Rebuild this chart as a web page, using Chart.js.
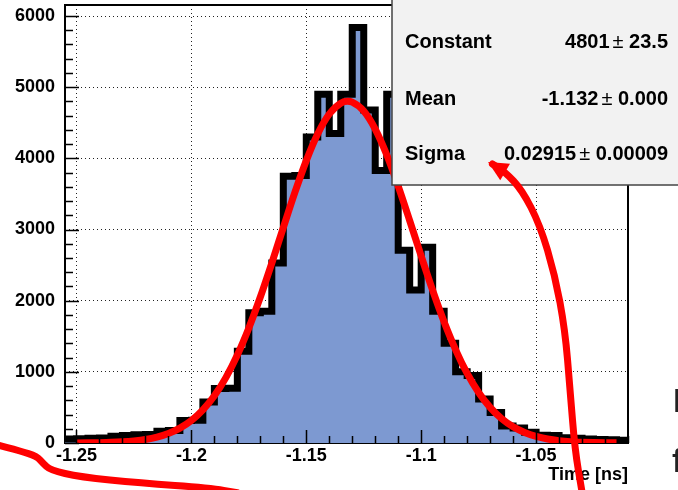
<!DOCTYPE html>
<html>
<head>
<meta charset="utf-8">
<script src="https://cdn.jsdelivr.net/npm/chart.js@4.4.0/dist/chart.umd.min.js"></script>
<style>
  html, body { margin: 0; padding: 0; background: #fff; }
  #wrap { width: 678px; height: 490px; position: relative; overflow: hidden; }
</style>
</head>
<body>
<div id="wrap"><canvas id="tiempo" width="678" height="490"></canvas></div>
<script>
// histogram: 49 bins of 0.005 ns starting at -1.255
const binStart = -1.255;
const binWidth = 0.005;
const counts = [55, 60, 65, 70, 95, 105, 115, 120, 165, 175,
  315, 320, 575, 765, 770, 1290, 1830, 1850, 2530, 3750,
  3760, 4300, 4900, 4350, 4900, 5840, 4680, 3830, 4900, 2710,
  2150, 2750, 1850, 1400, 1000, 950, 620, 430, 240, 210,
  150, 110, 105, 75, 65, 55, 50, 45, 40];

// gaussian fit curve
const fitX = [-1.25, -1.245, -1.24, -1.235, -1.23, -1.225, -1.22, -1.215, -1.21, -1.205,
  -1.2, -1.195, -1.19, -1.185, -1.18, -1.175, -1.17, -1.165, -1.16, -1.155,
  -1.15, -1.145, -1.14, -1.135, -1.132, -1.13, -1.125, -1.12, -1.115, -1.11, -1.105,
  -1.1, -1.095, -1.09, -1.085, -1.08, -1.075, -1.07, -1.065, -1.06, -1.055,
  -1.05, -1.045, -1.04, -1.035, -1.03, -1.025, -1.02, -1.015];
const fitY = [1, 3, 5, 9, 17, 30, 50, 83, 134, 209,
  316, 465, 663, 919, 1237, 1617, 2052, 2529, 3027, 3517,
  3968, 4346, 4623, 4776, 4801, 4790, 4665, 4411, 4050, 3611, 3126,
  2628, 2145, 1700, 1309, 978, 710, 500, 342, 227, 147,
  92, 56, 33, 19, 11, 6, 3, 2];

const xTicks = [-1.25, -1.2, -1.15, -1.1, -1.05];
const yTicks = [0, 1000, 2000, 3000, 4000, 5000, 6000];
const xTitle = 'Time [ns]';

const statNames = ['Constant', 'Mean', 'Sigma'];
const statValues = ['4801', '-1.132', '0.02915'];
const statErrors = ['23.5', '0.000', '0.00009'];

// text cut off at the right edge of the picture
const edgeText = ['I', 'f'];

// hand drawn red marks, in axis units
const arrowSigma = [[-1.0300, -689], [-1.0331, -98], [-1.0352, 745], [-1.0374, 1588],
  [-1.0418, 2361], [-1.0483, 3063], [-1.0561, 3555], [-1.0635, 3808], [-1.0690, 3920]];
const arrowTip = [-1.0709, 3949];
const strokeBottom = [[-1.2855, -20], [-1.2746, -110], [-1.2672, -190], [-1.2646, -281],
  [-1.2615, -379], [-1.2485, -478], [-1.2224, -562], [-1.1919, -632], [-1.1800, -700]];

const histPts = counts.map((c, i) => ({ x: binStart + i * binWidth, y: c }));
histPts.push({ x: binStart + counts.length * binWidth, y: counts[counts.length - 1] });
const fitPts = fitX.map((x, i) => ({ x: x, y: fitY[i] }));

const boldFont = '"Liberation Sans", Arial, Helvetica, sans-serif';

// frame drawn under the data
const framePlugin = {
  id: 'frame',
  beforeDatasetsDraw(chart) {
    const { ctx, chartArea: a } = chart;
    ctx.save();
    ctx.strokeStyle = '#000';
    ctx.lineWidth = 2;
    ctx.strokeRect(a.left, a.top, a.right - a.left, a.bottom - a.top);
    ctx.restore();
  }
};

// inside ticks, major and minor, on top of the data
const ticksPlugin = {
  id: 'insideTicks',
  afterDatasetsDraw(chart) {
    const { ctx, chartArea: a, scales } = chart;
    const sx = scales.x, sy = scales.y;
    ctx.save();
    ctx.strokeStyle = '#000';
    ctx.lineWidth = 1.5;
    ctx.beginPath();
    const ystep = (yTicks[1] - yTicks[0]) / 5;
    for (let v = 0; v <= sy.max + 1e-9; v += ystep) {
      const major = yTicks.some(t => Math.abs(t - v) < 1e-6);
      const py = Math.round(sy.getPixelForValue(v)) + 0.5;
      ctx.moveTo(a.left, py);
      ctx.lineTo(a.left + (major ? 14 : 8), py);
    }
    const xstep = (xTicks[1] - xTicks[0]) / 5;
    for (let k = 0; xTicks[0] + k * xstep <= sx.max + 1e-9; k++) {
      const v = xTicks[0] + k * xstep;
      const major = k % 5 === 0 && k / 5 < xTicks.length;
      const px = Math.round(sx.getPixelForValue(v)) + 0.5;
      ctx.moveTo(px, a.bottom);
      ctx.lineTo(px, a.bottom - (major ? 13 : 7));
    }
    ctx.stroke();
    ctx.restore();
  }
};

// stats box and the red marks
const statsPlugin = {
  id: 'statsBox',
  afterDraw(chart) {
    const { ctx, scales } = chart;
    const sx = scales.x, sy = scales.y;
    ctx.save();
    ctx.fillStyle = '#f2f2f2';
    ctx.fillRect(392, -5, 300, 190);
    ctx.strokeStyle = '#444';
    ctx.lineWidth = 1.5;
    ctx.strokeRect(392, -5, 300, 190);

    ctx.fillStyle = '#000';
    ctx.textBaseline = 'alphabetic';
    const rows = [48, 105, 160];
    statNames.forEach((name, i) => {
      ctx.font = 'bold 20px ' + boldFont;
      ctx.textAlign = 'left';
      ctx.fillText(name, 405, rows[i]);
      ctx.textAlign = 'right';
      const err = ' ' + statErrors[i];
      ctx.fillText(err, 668, rows[i]);
      let x = 668 - ctx.measureText(err).width;
      ctx.font = '20px ' + boldFont;
      ctx.fillText('\u00b1', x, rows[i]);
      x -= ctx.measureText('\u00b1').width + 3;
      ctx.font = 'bold 20px ' + boldFont;
      ctx.fillText(statValues[i], x, rows[i]);
    });

    // partial letters at the right edge
    ctx.font = 'bold 34px ' + boldFont;
    ctx.textAlign = 'left';
    ctx.fillStyle = '#222';
    ctx.fillText(edgeText[0], 673, 412);
    ctx.fillText(edgeText[1], 672, 472);

    // red marks
    ctx.strokeStyle = '#ff0000';
    ctx.fillStyle = '#ff0000';
    ctx.lineWidth = 7;
    ctx.lineCap = 'round';
    ctx.lineJoin = 'round';
    const path = pts => {
      ctx.beginPath();
      pts.forEach((p, i) => {
        const px = sx.getPixelForValue(p[0]), py = sy.getPixelForValue(p[1]);
        if (i === 0) ctx.moveTo(px, py);
        else {
          const q = pts[i - 1];
          const qx = sx.getPixelForValue(q[0]), qy = sy.getPixelForValue(q[1]);
          ctx.quadraticCurveTo(qx, qy, (qx + px) / 2, (qy + py) / 2);
        }
      });
      const last = pts[pts.length - 1];
      ctx.lineTo(sx.getPixelForValue(last[0]), sy.getPixelForValue(last[1]));
      ctx.stroke();
    };
    path(arrowSigma);
    path(strokeBottom);

    // arrow head
    const tx = sx.getPixelForValue(arrowTip[0]), ty = sy.getPixelForValue(arrowTip[1]);
    const b = arrowSigma[arrowSigma.length - 2];
    const bx = sx.getPixelForValue(b[0]), by = sy.getPixelForValue(b[1]);
    const ang = Math.atan2(ty - by, tx - bx);
    ctx.beginPath();
    ctx.moveTo(tx, ty);
    ctx.lineTo(tx - 22 * Math.cos(ang - 0.45), ty - 22 * Math.sin(ang - 0.45));
    ctx.lineTo(tx - 22 * Math.cos(ang + 0.45), ty - 22 * Math.sin(ang + 0.45));
    ctx.closePath();
    ctx.fill();
    ctx.restore();
  }
};

const config = {
  type: 'line',
  data: {
    datasets: [
      {
        label: 'fit',
        data: fitPts,
        borderColor: '#ff0000',
        borderWidth: 7,
        pointRadius: 0,
        cubicInterpolationMode: 'monotone',
        fill: false,
        order: 0
      },
      {
        label: 'time',
        data: histPts,
        stepped: 'before',
        borderColor: '#000000',
        borderWidth: 7,
        backgroundColor: '#7d99d1',
        fill: 'origin',
        pointRadius: 0,
        order: 1
      }
    ]
  },
  options: {
    responsive: false,
    devicePixelRatio: 1,
    animation: false,
    layout: { padding: { top: 5, right: 50, left: 0, bottom: 0 } },
    plugins: { legend: { display: false }, tooltip: { enabled: false } },
    scales: {
      x: {
        type: 'linear',
        min: binStart,
        max: binStart + counts.length * binWidth,
        afterBuildTicks: s => { s.ticks = xTicks.map(v => ({ value: v })); },
        afterFit: s => { s.height = 47; s.paddingLeft = 0; s.paddingRight = 0; },
        grid: { color: '#222', lineWidth: 1, drawTicks: false },
        border: { display: false, dash: [1, 3] },
        ticks: {
          padding: 2,
          maxRotation: 0,
          autoSkip: false,
          color: '#000',
          font: { family: boldFont, size: 18, weight: 'bold' },
          callback: v => String(parseFloat(Number(v).toFixed(3)))
        },
        title: {
          display: true,
          text: xTitle,
          align: 'end',
          color: '#000',
          padding: { top: 0, bottom: 4 },
          font: { family: boldFont, size: 18, weight: 'bold' }
        }
      },
      y: {
        min: 0,
        max: 6155,
        afterBuildTicks: s => { s.ticks = yTicks.map(v => ({ value: v })); },
        afterFit: s => { s.width = 65; s.paddingTop = 0; s.paddingBottom = 0; },
        grid: { color: '#222', lineWidth: 1, drawTicks: false },
        border: { display: false, dash: [1, 3] },
        ticks: {
          padding: 10,
          color: '#000',
          font: { family: boldFont, size: 18, weight: 'bold' },
          callback: v => String(v)
        }
      }
    }
  },
  plugins: [framePlugin, ticksPlugin, statsPlugin]
};

window.addEventListener('DOMContentLoaded', () => {
  const canvas = document.getElementById('tiempo');
  new Chart(canvas.getContext('2d'), config);
});
</script>
</body>
</html>
